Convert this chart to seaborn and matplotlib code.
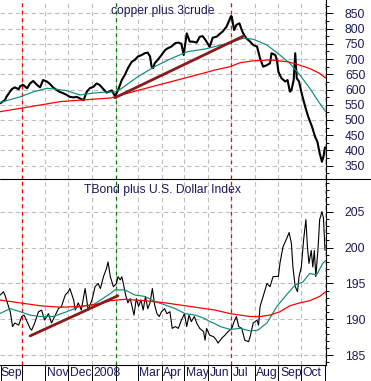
import matplotlib
matplotlib.use('Agg')
import matplotlib.pyplot as plt
import matplotlib.dates as mdates
import numpy as np
import pandas as pd
import seaborn as sns
from matplotlib.ticker import MultipleLocator
from matplotlib.lines import Line2D
from matplotlib.transforms import blended_transform_factory, ScaledTranslation

# ---------------- data ----------------
copper_dates = ['2007-09-03','2007-09-09','2007-09-11','2007-09-18','2007-09-22','2007-09-27','2007-09-29','2007-10-03','2007-10-08','2007-10-12','2007-10-16','2007-10-21','2007-10-25','2007-10-29','2007-11-03','2007-11-07','2007-11-11','2007-11-16','2007-11-20','2007-11-24','2007-11-29','2007-12-03','2007-12-08','2007-12-12','2007-12-16','2007-12-21','2007-12-25','2007-12-29','2008-01-03','2008-01-07','2008-01-11','2008-01-16','2008-01-20','2008-01-27','2008-01-31','2008-02-04','2008-02-09','2008-02-13','2008-02-17','2008-02-22','2008-02-26','2008-03-01','2008-03-06','2008-03-10','2008-03-14','2008-03-17','2008-03-19','2008-03-21','2008-03-23','2008-03-27','2008-04-01','2008-04-06','2008-04-09','2008-04-14','2008-04-19','2008-04-23','2008-04-27','2008-04-30','2008-05-04','2008-05-08','2008-05-12','2008-05-17','2008-05-21','2008-05-25','2008-05-30','2008-06-03','2008-06-07','2008-06-12','2008-06-17','2008-06-20','2008-06-25','2008-06-27','2008-07-01','2008-07-02','2008-07-05','2008-07-08','2008-07-12','2008-07-15','2008-07-17','2008-07-21','2008-07-26','2008-07-30','2008-08-04','2008-08-08','2008-08-12','2008-08-17','2008-08-21','2008-08-23','2008-08-28','2008-08-30','2008-09-01','2008-09-05','2008-09-10','2008-09-13','2008-09-16','2008-09-18','2008-09-21','2008-09-23','2008-09-25','2008-09-28','2008-10-02','2008-10-06','2008-10-10','2008-10-15','2008-10-19','2008-10-22','2008-10-25','2008-10-28','2008-10-30','2008-11-01']
copper_vals = [555,565,576,601,607,601,611,615,604,620,628,615,607,631,626,618,607,598,592,588,582,576,574,576,571,565,592,604,609,620,615,601,590,597,578,597,631,648,670,691,697,708,713,719,721,708,675,670,686,697,713,730,735,741,752,754,750,713,784,757,757,754,773,775,757,740,770,773,784,790,806,817,841,839,795,812,817,795,784,768,757,746,741,702,675,680,686,719,713,697,658,637,626,631,593,597,631,719,637,626,582,544,511,478,445,429,391,363,380,410]

copper_ma_dates = ['2007-09-02','2007-09-29','2007-10-16','2007-11-03','2007-11-11','2007-11-29','2007-12-16','2008-01-02','2008-01-21','2008-01-31','2008-02-09','2008-03-01','2008-03-23','2008-04-14','2008-05-05','2008-05-28','2008-06-10','2008-06-30','2008-07-17','2008-07-30','2008-08-17','2008-09-03','2008-09-16','2008-09-29','2008-10-12','2008-10-25','2008-11-02']
copper_ma_short = [557,576,592,604,602,596,582,588,592,592,604,642,675,702,724,733,741,754,768,765,746,713,686,648,604,555,527]

copper_ma_long_dates = ['2007-09-02','2007-09-29','2007-10-25','2007-11-20','2007-12-16','2008-01-25','2008-03-01','2008-04-14','2008-05-28','2008-06-10','2008-06-30','2008-07-13','2008-07-30','2008-08-21','2008-09-13','2008-09-25','2008-10-12','2008-10-25','2008-11-02']
copper_ma_long = [527,538,549,560,565,572,597,626,655,664,675,688,694,697,691,683,669,653,637]

copper_trend_dates = ['2008-01-31','2008-07-17']
copper_trend = [573,775]

bond_dates = ['2007-09-03','2007-09-07','2007-09-09','2007-09-11','2007-09-16','2007-09-19','2007-09-22','2007-09-27','2007-10-01','2007-10-04','2007-10-08','2007-10-12','2007-10-14','2007-10-18','2007-10-23','2007-10-27','2007-10-31','2007-11-05','2007-11-09','2007-11-14','2007-11-18','2007-11-22','2007-11-27','2007-12-01','2007-12-03','2007-12-08','2007-12-10','2007-12-14','2007-12-18','2007-12-23','2007-12-27','2008-01-01','2008-01-05','2008-01-09','2008-01-12','2008-01-16','2008-01-20','2008-01-22','2008-01-25','2008-01-29','2008-02-02','2008-02-04','2008-02-07','2008-02-09','2008-02-11','2008-02-14','2008-02-17','2008-02-20','2008-02-22','2008-02-25','2008-02-28','2008-03-02','2008-03-05','2008-03-08','2008-03-11','2008-03-14','2008-03-17','2008-03-20','2008-03-23','2008-03-26','2008-03-29','2008-04-01','2008-04-05','2008-04-08','2008-04-12','2008-04-15','2008-04-19','2008-04-23','2008-04-27','2008-05-01','2008-05-04','2008-05-07','2008-05-10','2008-05-14','2008-05-17','2008-05-21','2008-05-26','2008-05-28','2008-05-30','2008-06-03','2008-06-08','2008-06-12','2008-06-14','2008-06-19','2008-06-23','2008-06-27','2008-07-02','2008-07-05','2008-07-08','2008-07-11','2008-07-15','2008-07-19','2008-07-24','2008-07-26','2008-07-30','2008-08-04','2008-08-06','2008-08-08','2008-08-12','2008-08-17','2008-08-21','2008-08-25','2008-09-01','2008-09-03','2008-09-07','2008-09-12','2008-09-15','2008-09-18','2008-09-20','2008-09-23','2008-09-26','2008-09-28','2008-10-01','2008-10-04','2008-10-07','2008-10-09','2008-10-11','2008-10-14','2008-10-16','2008-10-18','2008-10-20','2008-10-23','2008-10-25','2008-10-28','2008-10-30','2008-11-01']
bond_vals = [193.4,193.85,193.4,192.7,191.07,189.0,189.5,189.2,190.4,190.6,189.7,188.75,188.5,189.5,191.07,191.3,189.9,190.8,189.5,190.6,191.5,191.8,193.4,193.85,194.3,192.7,191.3,192.3,191.3,194.3,191.3,192.7,194.55,195.0,194.3,195.95,197.1,198.0,195.95,194.55,195.0,195.95,195.5,195.95,195.0,193.4,192.3,192.9,192.0,190.6,192.9,191.8,192.7,191.3,193.2,191.5,192.3,194.3,192.0,190.8,190.4,191.07,191.5,190.8,191.07,188.75,189.0,188.75,189.9,190.8,189.0,190.6,189.7,190.4,189.5,188.75,188.3,187.1,188.75,187.8,187.6,187.1,186.7,187.4,187.8,188.3,188.75,189.7,190.4,189.0,188.75,187.1,186.9,187.6,189.5,189.9,189.2,191.8,193.2,195.0,194.55,195.95,196.0,197.8,200.1,201.3,202.1,200.6,197.3,194.55,193.85,195.95,197.3,201.1,203.9,200.1,197.8,199.6,197.3,199.6,195.95,200.1,203.9,205.0,204.1,199.6]

bond_ma_short_dates = ['2007-09-02','2007-09-16','2007-09-29','2007-10-12','2007-10-25','2007-11-11','2007-11-29','2007-12-16','2008-01-02','2008-01-15','2008-01-25','2008-01-31','2008-02-13','2008-02-26','2008-03-10','2008-03-23','2008-04-06','2008-04-19','2008-05-02','2008-05-15','2008-05-28','2008-06-03','2008-06-10','2008-06-17','2008-06-30','2008-07-13','2008-07-26','2008-08-05','2008-08-17','2008-08-30','2008-09-13','2008-09-23','2008-10-03','2008-10-12','2008-10-21','2008-10-29','2008-11-02']
bond_ma_short = [190.8,191.5,191.07,190.6,190.4,190.4,191.07,191.8,192.0,192.9,193.6,194.1,194.1,193.4,193.2,192.5,192.0,191.5,190.8,190.6,190.1,189.7,189.4,189.0,188.6,188.75,188.4,188.5,189.5,191.8,193.6,194.8,195.2,196.4,196.2,197.8,198.2]

bond_ma_long_dates = ['2007-09-02','2007-09-29','2007-10-25','2007-11-20','2007-12-16','2008-01-12','2008-01-25','2008-02-13','2008-03-10','2008-04-06','2008-05-02','2008-05-28','2008-06-10','2008-06-30','2008-07-26','2008-08-08','2008-08-21','2008-09-03','2008-09-16','2008-09-29','2008-10-12','2008-10-25','2008-11-02']
bond_ma_long = [192.7,192.3,191.9,191.7,191.8,192.2,192.6,192.8,192.6,192.3,191.9,191.5,191.3,190.8,190.4,190.4,190.6,191.07,191.9,192.3,192.6,193.2,193.85]

bond_trend_dates = ['2007-10-12','2008-02-04']
bond_trend = [187.7,193.3]

marker_dates = ['2007-10-01','2008-02-01','2008-07-01']
marker_colors = ['#ff0000','#008000','#ff0000']

month_label_dates = ['2007-09-01','2007-11-01','2007-12-01','2008-01-01','2008-03-01','2008-04-01','2008-05-01','2008-06-01','2008-07-01','2008-08-01','2008-09-01','2008-10-01']
month_labels = ['Sep','Nov','Dec','2008','Mar','Apr','May','Jun','Jul','Aug','Sep','Oct']

top_title = 'copper plus 3crude'
bottom_title = 'TBond plus U.S. Dollar Index'

# ---------------- style ----------------
sns.set_style('white')
plt.rcParams['font.family'] = ['Liberation Sans', 'DejaVu Sans']
TXT = '#1a1a5a'
FS = 8.7

W, H = 371, 381
fig = plt.figure(figsize=(W / 100, H / 100), dpi=100)
fig.patch.set_facecolor('white')
ax1 = fig.add_axes([0, 1 - 179 / H, 326 / W, 179 / H])
ax2 = fig.add_axes([0, 1 - 365 / H, 326 / W, 186 / H])

base = mdates.date2num(pd.Timestamp('2007-09-01'))
xlim = (base + 1.57, base + 428.3)

def td(lst):
    return pd.to_datetime(lst)

# top panel
sns.lineplot(x=td(copper_dates), y=copper_vals, ax=ax1, color='black', linewidth=1.5, zorder=3)
sns.lineplot(x=td(copper_ma_dates), y=copper_ma_short, ax=ax1, color='#0f8a7a', linewidth=0.85, zorder=4)
sns.lineplot(x=td(copper_ma_long_dates), y=copper_ma_long, ax=ax1, color='#ff0000', linewidth=0.9, zorder=4)
sns.lineplot(x=td(copper_trend_dates), y=copper_trend, ax=ax1, color='#8b1a1a', linewidth=2.0, zorder=5)

# bottom panel
sns.lineplot(x=td(bond_dates), y=bond_vals, ax=ax2, color='black', linewidth=0.8, zorder=3)
sns.lineplot(x=td(bond_ma_short_dates), y=bond_ma_short, ax=ax2, color='#0f8a7a', linewidth=0.85, zorder=4)
sns.lineplot(x=td(bond_ma_long_dates), y=bond_ma_long, ax=ax2, color='#ff0000', linewidth=0.9, zorder=4)
sns.lineplot(x=td(bond_trend_dates), y=bond_trend, ax=ax2, color='#8b1a1a', linewidth=2.0, zorder=5)

for ax, ylim, major, minor in ((ax1, (306.4, 893.6), 50, 25), (ax2, (183.65, 209.55), 5, 1)):
    ax.set_xlim(xlim)
    ax.set_ylim(ylim)
    ax.set_facecolor('white')
    ax.xaxis.set_major_locator(mdates.MonthLocator())
    ax.yaxis.set_major_locator(MultipleLocator(major))
    ax.yaxis.set_minor_locator(MultipleLocator(minor))
    ax.yaxis.tick_right()
    ax.grid(True, which='major', color='#bdbdbd', linestyle=(0, (4, 3)), linewidth=0.8, zorder=0)
    ax.set_axisbelow(True)
    ax.set_xlabel('')
    ax.set_ylabel('')
    for s in ('left', 'top', 'bottom'):
        ax.spines[s].set_visible(False)
    ax.spines['right'].set_visible(True)
    ax.spines['right'].set_color('black')
    ax.spines['right'].set_linewidth(0.8)
    ax.tick_params(axis='y', which='major', right=True, left=False, length=5, width=0.7,
                   direction='out', pad=8.6, labelsize=FS, labelcolor=TXT, color='black')
    ax.tick_params(axis='y', which='minor', right=True, left=False, length=2.4, width=0.7,
                   direction='out', color='black')
    for d, c in zip(marker_dates, marker_colors):
        ax.axvline(pd.Timestamp(d), color=c, linestyle=(0, (3, 3)), linewidth=0.9, zorder=1)

ax1.tick_params(axis='x', length=0, labelbottom=False)
ax2.spines['bottom'].set_visible(True)
ax2.spines['bottom'].set_color('black')
ax2.spines['bottom'].set_linewidth(0.8)
ax2.tick_params(axis='x', which='major', bottom=True, length=11.5, width=0.7, direction='out',
                color='black', labelbottom=False)

# month labels
trans = blended_transform_factory(ax2.transData, ax2.transAxes) + ScaledTranslation(1.5 / 100, 0, fig.dpi_scale_trans)
for d, lab in zip(month_label_dates, month_labels):
    ax2.text(pd.Timestamp(d), -8 / 186, lab, transform=trans, ha='left', va='center',
             fontsize=FS, color=TXT, clip_on=False)

# titles
ax1.text(0.5, 1 - 11 / 179, top_title, transform=ax1.transAxes, ha='center', va='center',
         fontsize=FS, color=TXT)
ax2.text(0.5, 1 - 11 / 186, bottom_title, transform=ax2.transAxes, ha='center', va='center',
         fontsize=FS, color=TXT)

# separator line and leftmost tick
fig.add_artist(Line2D([0, 1], [1 - 179 / H, 1 - 179 / H], color='black', linewidth=0.8,
                      transform=fig.transFigure))
fig.add_artist(Line2D([0.7 / W, 0.7 / W], [0, 1 - 365 / H], color='black', linewidth=0.7,
                      transform=fig.transFigure))

fig.savefig('out.png', dpi=100, facecolor='white')
